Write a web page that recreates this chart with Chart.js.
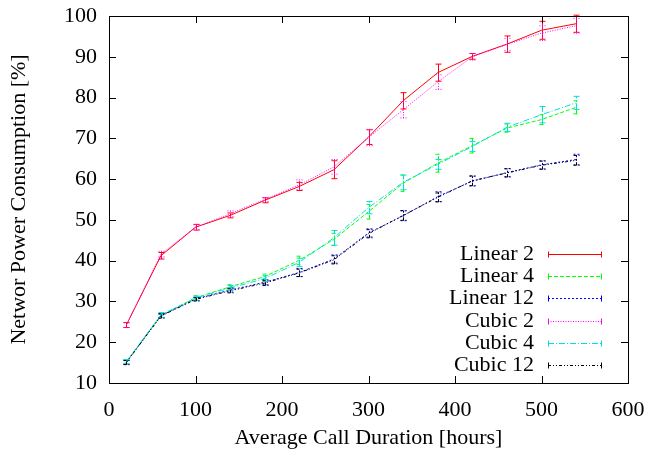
<!DOCTYPE html>
<html lang="en">
<head>
  <meta charset="UTF-8" />
  <title>Network Power Consumption</title>
  <script src="https://cdn.jsdelivr.net/npm/chart.js"></script>
  <style>
    html, body { margin: 0; padding: 0; background: #fff; }
    #wrap { width: 649px; height: 451px; }
  </style>
</head>
<body>
  <div id="wrap"><canvas id="powerChart" width="649" height="451"></canvas></div>

  <script>
    const durations = [20, 60, 100, 140, 180, 220, 260, 300, 340, 380, 420, 460, 500, 540];
    const xTicks = [0, 100, 200, 300, 400, 500, 600];
    const yTicks = [10, 20, 30, 40, 50, 60, 70, 80, 90, 100];

    const linear2 = [24.2, 41.2, 48.2, 51.1, 54.8, 58.2, 62.3, 70.3, 79.2, 86.1, 90.1, 93.1, 96.5, 98.1];
    const linear2Err = [0.6, 0.8, 0.7, 0.6, 0.6, 1.0, 2.2, 1.8, 2.0, 2.1, 0.7, 2.0, 2.2, 2.1];
    const linear4 = [15.2, 26.6, 30.9, 33.6, 36.1, 40.1, 45.2, 52.0, 59.0, 63.9, 68.2, 72.5, 74.6, 77.6];
    const linear4Err = [0.5, 0.5, 0.5, 0.5, 0.6, 1.0, 1.5, 1.8, 2.0, 2.2, 1.8, 1.0, 1.2, 1.6];
    const linear12 = [15.1, 26.5, 30.6, 32.8, 34.7, 37.1, 40.4, 46.8, 51.0, 55.7, 59.5, 61.6, 63.5, 64.8];
    const linear12Err = [0.5, 0.5, 0.4, 0.5, 0.6, 1.0, 1.0, 1.0, 1.2, 1.2, 1.2, 1.0, 1.0, 1.3];
    const cubic2 = [24.2, 41.6, 48.2, 51.5, 55.0, 58.6, 63.0, 70.2, 77.0, 83.8, 90.0, 93.0, 95.8, 97.6];
    const cubic2Err = [0.6, 0.7, 0.6, 0.7, 0.5, 1.2, 1.8, 2.0, 2.0, 1.8, 0.8, 1.5, 1.8, 1.8];
    const cubic4 = [15.2, 26.7, 30.8, 33.3, 35.6, 39.6, 45.6, 53.0, 59.2, 63.6, 68.0, 72.7, 75.8, 78.7];
    const cubic4Err = [0.5, 0.6, 0.5, 0.6, 0.7, 1.0, 1.8, 1.5, 1.8, 1.2, 1.2, 1.0, 2.0, 1.6];
    const cubic12 = [15.0, 26.4, 30.5, 32.6, 34.5, 37.0, 40.2, 46.6, 51.1, 55.5, 59.6, 61.5, 63.4, 64.6];
    const cubic12Err = [0.5, 0.5, 0.4, 0.5, 0.6, 0.9, 1.0, 1.0, 1.2, 1.1, 1.2, 1.0, 1.0, 1.2];

    const FONT = '"Liberation Serif", "Times New Roman", serif';

    function series(label, values, errs, color, dash, i) {
      return {
        label: label,
        data: durations.map((d, k) => ({ x: d, y: values[k] })),
        errors: errs,
        borderColor: color,
        backgroundColor: color,
        borderDash: dash,
        borderWidth: 1,
        pointRadius: 0,
        tension: 0,
        order: 6 - i
      };
    }

    const datasets = [
      series('Linear 2', linear2, linear2Err, '#ff0000', [], 0),
      series('Linear 4', linear4, linear4Err, '#00ff00', [4, 2], 1),
      series('Linear 12', linear12, linear12Err, '#0000ff', [2, 2], 2),
      series('Cubic 2', cubic2, cubic2Err, '#ff00ff', [1, 1.5], 3),
      series('Cubic 4', cubic4, cubic4Err, '#00e0e0', [6, 2, 1, 2], 4),
      series('Cubic 12', cubic12, cubic12Err, '#000000', [3, 2, 1, 2, 1, 2], 5)
    ];

    // gnuplot-ish frame: border plus inward ticks on all four sides
    const framePlugin = {
      id: 'frame',
      afterDraw(chart) {
        const { ctx, chartArea: a, scales } = chart;
        ctx.save();
        ctx.strokeStyle = '#000';
        ctx.lineWidth = 1;
        ctx.setLineDash([]);
        ctx.strokeRect(a.left + 0.5, a.top + 0.5, a.right - a.left, a.bottom - a.top);
        const len = 7;
        ctx.beginPath();
        xTicks.forEach(v => {
          const x = Math.round(scales.x.getPixelForValue(v)) + 0.5;
          ctx.moveTo(x, a.bottom); ctx.lineTo(x, a.bottom - len);
          ctx.moveTo(x, a.top); ctx.lineTo(x, a.top + len);
        });
        yTicks.forEach(v => {
          const y = Math.round(scales.y.getPixelForValue(v)) + 0.5;
          ctx.moveTo(a.left, y); ctx.lineTo(a.left + len, y);
          ctx.moveTo(a.right, y); ctx.lineTo(a.right - len, y);
        });
        ctx.stroke();
        ctx.restore();
      }
    };

    // vertical error bars with small caps, drawn in each series' line style
    const errorBarPlugin = {
      id: 'errorBars',
      afterDatasetsDraw(chart) {
        const { ctx, scales } = chart;
        ctx.save();
        chart.data.datasets.forEach((ds, i) => {
          const meta = chart.getDatasetMeta(i);
          ctx.strokeStyle = ds.borderColor;
          ctx.lineWidth = 1;
          ctx.setLineDash(ds.borderDash);
          meta.data.forEach((pt, k) => {
            const v = ds.data[k].y, e = ds.errors[k];
            const x = Math.round(pt.x) + 0.5;
            const y1 = scales.y.getPixelForValue(v - e);
            const y2 = scales.y.getPixelForValue(v + e);
            ctx.beginPath();
            ctx.moveTo(x, y1); ctx.lineTo(x, y2);
            ctx.moveTo(x - 3, y1); ctx.lineTo(x + 3, y1);
            ctx.moveTo(x - 3, y2); ctx.lineTo(x + 3, y2);
            ctx.stroke();
          });
        });
        ctx.restore();
      }
    };

    // legend in the lower right, text right-aligned, sample on the right
    const keyPlugin = {
      id: 'key',
      afterDraw(chart) {
        const { ctx } = chart;
        ctx.save();
        ctx.font = '22px ' + FONT;
        ctx.textAlign = 'right';
        ctx.textBaseline = 'middle';
        chart.data.datasets.forEach((ds, i) => {
          const y = Math.round(254 + i * 22.2) + 0.5;
          ctx.fillStyle = '#000';
          ctx.fillText(ds.label, 534, y);
          ctx.strokeStyle = ds.borderColor;
          ctx.lineWidth = 1;
          ctx.setLineDash(ds.borderDash);
          ctx.beginPath();
          ctx.moveTo(548, y); ctx.lineTo(602, y);
          ctx.stroke();
          ctx.setLineDash([]);
          ctx.beginPath();
          ctx.moveTo(548.5, y - 3); ctx.lineTo(548.5, y + 3);
          ctx.moveTo(601.5, y - 3); ctx.lineTo(601.5, y + 3);
          ctx.stroke();
        });
        ctx.restore();
      }
    };

    new Chart(document.getElementById('powerChart'), {
      type: 'line',
      data: { datasets: datasets },
      options: {
        responsive: false,
        animation: false,
        layout: { padding: { left: 0, top: 16, right: 21, bottom: 0 } },
        plugins: {
          legend: { display: false },
          tooltip: { enabled: false }
        },
        scales: {
          x: {
            type: 'linear',
            min: 0,
            max: 600,
            afterBuildTicks: s => { s.ticks = xTicks.map(v => ({ value: v })); },
            afterFit: s => { s.height = 68; s.paddingLeft = 0; s.paddingRight = 0; },
            grid: { display: false, drawTicks: false },
            border: { display: false },
            ticks: { color: '#000', padding: 14, maxRotation: 0, font: { family: FONT, size: 22 } },
            title: {
              display: true,
              text: 'Average Call Duration [hours]',
              color: '#000',
              padding: { top: 0, bottom: 0 },
              font: { family: FONT, size: 22 }
            }
          },
          y: {
            min: 10,
            max: 100,
            afterBuildTicks: s => { s.ticks = yTicks.map(v => ({ value: v })); },
            afterFit: s => { s.width = 109; s.paddingTop = 0; s.paddingBottom = 0; },
            grid: { display: false, drawTicks: false },
            border: { display: false },
            ticks: { color: '#000', padding: 12, font: { family: FONT, size: 22 } },
            title: {
              display: true,
              text: 'Networ Power Consumption [%]',
              color: '#000',
              padding: { top: 6, bottom: 0 },
              font: { family: FONT, size: 22 }
            }
          }
        }
      },
      plugins: [framePlugin, errorBarPlugin, keyPlugin]
    });
  </script>
</body>
</html>
